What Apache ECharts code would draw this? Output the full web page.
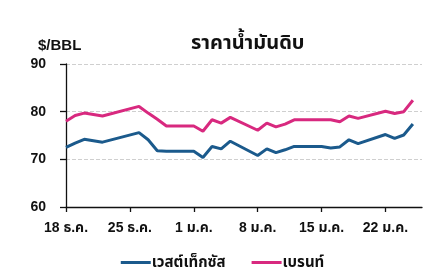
<!DOCTYPE html>
<html>
<head>
<meta charset="utf-8">
<script src="https://cdn.jsdelivr.net/npm/echarts@6/dist/echarts.min.js"></script>
<style>html,body{margin:0;padding:0;background:#fff}#c{width:445px;height:278px}</style>
</head>
<body>
<div id="c"></div>
<script>
// Trading dates (YYYY-MM-DD)
const dates = [
  "2023-12-18","2023-12-19","2023-12-20","2023-12-21","2023-12-22",
  "2023-12-26","2023-12-27","2023-12-28","2023-12-29","2024-01-01",
  "2024-01-02","2024-01-03","2024-01-04","2024-01-05",
  "2024-01-08","2024-01-09","2024-01-10","2024-01-11","2024-01-12",
  "2024-01-15","2024-01-16","2024-01-17","2024-01-18","2024-01-19",
  "2024-01-22","2024-01-23","2024-01-24","2024-01-25"
];
const wti = [
  72.5,73.4,74.2,73.9,73.6,
  75.6,74.1,71.8,71.7,71.7,
  70.4,72.7,72.2,73.8,
  70.8,72.2,71.4,72.0,72.7,
  72.7,72.4,72.6,74.1,73.3,
  75.2,74.4,75.1,77.4
];
const brent = [
  78.0,79.2,79.7,79.4,79.1,
  81.1,79.7,78.4,77.0,77.0,
  75.9,78.3,77.6,78.8,
  76.1,77.6,76.8,77.4,78.3,
  78.3,78.3,77.9,79.1,78.6,
  80.1,79.6,80.0,82.4
];
const tickLabels = ["18 ธ.ค.","25 ธ.ค.","1 ม.ค.","8 ม.ค.","15 ม.ค.","22 ม.ค."];
const seriesNames = ["เวสต์เท็กซัส","เบรนท์"];
const titleText = "ราคาน้ำมันดิบ";
const unitText = "$/BBL";

const DAY = 86400000;
const start = Date.parse(dates[0]);
const dayIdx = dates.map(d => Math.round((Date.parse(d) - start) / DAY));
const toPairs = vals => vals.map((v, i) => [dayIdx[i], v]);

const FONT = "'Liberation Sans','Noto Sans Thai','Noto Sans',sans-serif";
const chart = echarts.init(document.getElementById('c'), null, {renderer: 'canvas'});
chart.setOption({
  animation: false,
  backgroundColor: '#fff',
  title: [
    {text: unitText, left: 33, top: 33, textStyle: {fontFamily: FONT, fontSize: 15, fontWeight: 'bold', color: '#111'}},
    {text: titleText, left: 186, top: 28, textStyle: {fontFamily: FONT, fontSize: 20, fontWeight: 'bold', color: '#111'}}
  ],
  legend: {
    bottom: 3, left: 'center', itemGap: 26, itemWidth: 30, itemHeight: 3, icon: 'rect',
    textStyle: {fontFamily: FONT, fontSize: 15, fontWeight: 'bold', color: '#111', padding: [0,0,0,-4]},
    data: seriesNames
  },
  grid: {left: 66, right: 23, top: 64, bottom: 71},
  xAxis: {
    type: 'value', min: 0, max: 39, interval: 7,
    axisLine: {lineStyle: {color: '#111', width: 1.3}},
    axisTick: {show: true, length: 5, lineStyle: {color: '#111', width: 1.3}},
    splitLine: {show: false},
    axisLabel: {
      margin: 14, fontFamily: FONT, fontSize: 14, fontWeight: 'bold', color: '#111',
      formatter: v => tickLabels[Math.round(v / 7)] || '',
      showMaxLabel: false
    }
  },
  yAxis: {
    type: 'value', min: 60, max: 90, interval: 10,
    axisLine: {show: true, lineStyle: {color: '#111', width: 1.3}},
    axisTick: {show: true, length: 6, lineStyle: {color: '#111', width: 1.3}},
    splitLine: {show: true, lineStyle: {color: '#cfcfcf', type: 'dashed', width: 1}},
    axisLabel: {margin: 20, fontFamily: FONT, fontSize: 14, fontWeight: 'bold', color: '#111'}
  },
  series: [
    {name: seriesNames[0], type: 'line', data: toPairs(wti), symbol: 'none',
     lineStyle: {color: '#1b5a8c', width: 3}, itemStyle: {color: '#1b5a8c'}},
    {name: seriesNames[1], type: 'line', data: toPairs(brent), symbol: 'none',
     lineStyle: {color: '#d8297f', width: 3}, itemStyle: {color: '#d8297f'}}
  ]
});
</script>
</body>
</html>
